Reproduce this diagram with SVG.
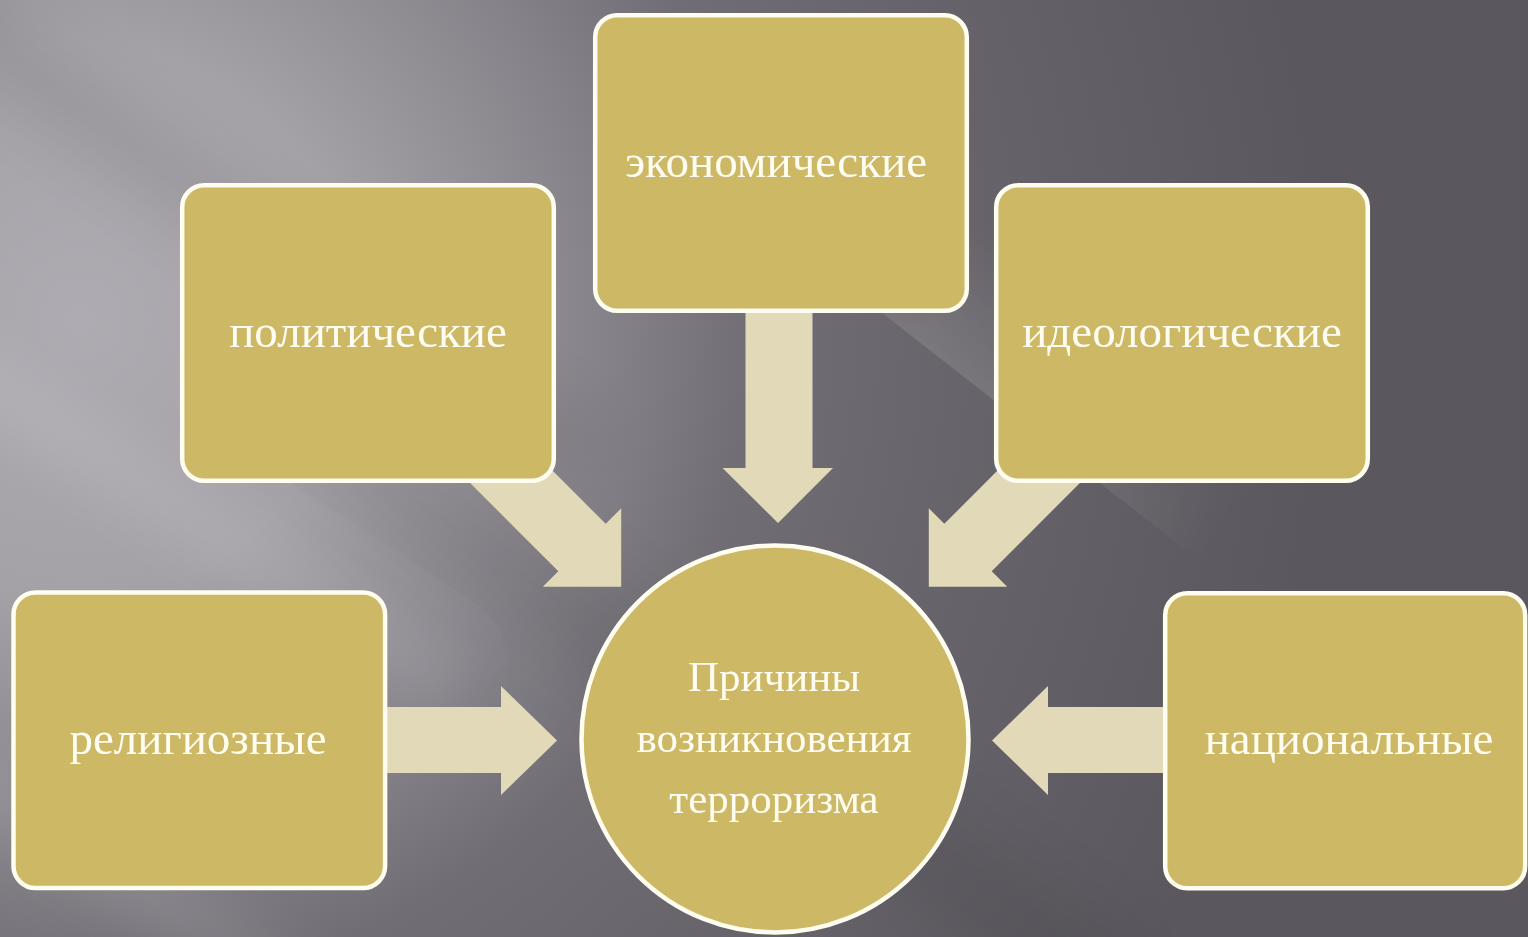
<svg xmlns="http://www.w3.org/2000/svg" width="1528" height="937" viewBox="0 0 1528 937">
  <defs>
    <radialGradient id="bg" gradientUnits="userSpaceOnUse" cx="80" cy="320" r="1250">
      <stop offset="0" stop-color="#aeabb2"/>
      <stop offset="0.22" stop-color="#a4a1a7"/>
      <stop offset="0.42" stop-color="#858289"/>
      <stop offset="0.54" stop-color="#706e74"/>
      <stop offset="0.72" stop-color="#66646a"/>
      <stop offset="1" stop-color="#5a585e"/>
    </radialGradient>
    <linearGradient id="glint" x1="0" y1="0" x2="0" y2="1">
      <stop offset="0" stop-color="#ffffff" stop-opacity="0"/>
      <stop offset="1" stop-color="#ffffff" stop-opacity="0.12"/>
    </linearGradient>
    <linearGradient id="fadeX" x1="0" y1="0" x2="1" y2="0">
      <stop offset="0" stop-color="#000"/>
      <stop offset="0.35" stop-color="#fff"/>
      <stop offset="0.65" stop-color="#fff"/>
      <stop offset="1" stop-color="#000"/>
    </linearGradient>
    <mask id="glintMask" maskUnits="userSpaceOnUse" x="-400" y="-200" width="800" height="400">
      <rect x="-300" y="-130" width="560" height="140" fill="url(#fadeX)"/>
    </mask>
    <linearGradient id="streak" x1="0" y1="0" x2="0" y2="1">
      <stop offset="0" stop-color="#ffffff" stop-opacity="0"/>
      <stop offset="0.5" stop-color="#ffffff" stop-opacity="0.12"/>
      <stop offset="1" stop-color="#ffffff" stop-opacity="0"/>
    </linearGradient>
    <linearGradient id="dstreak" x1="0" y1="0" x2="0" y2="1">
      <stop offset="0" stop-color="#000000" stop-opacity="0"/>
      <stop offset="0.5" stop-color="#000000" stop-opacity="0.08"/>
      <stop offset="1" stop-color="#000000" stop-opacity="0"/>
    </linearGradient>
    <filter id="soft" x="-20%" y="-20%" width="140%" height="140%">
      <feGaussianBlur stdDeviation="25"/>
    </filter>
    <style>
      .box { fill: #cdb865; stroke: #fffcf0; stroke-width: 4.5; }
      .arrow { fill: #e2d9b9; }
      .lbl { font-family: "Liberation Serif", "Times New Roman", serif; fill: #fffdf2; text-anchor: middle; }
      .big { font-size: 47px; }
      .mid { font-size: 43px; }
    </style>
  </defs>

  <!-- background -->
  <rect x="0" y="0" width="1528" height="937" fill="url(#bg)"/>
  <g filter="url(#soft)">
    <g transform="translate(120,470) rotate(33)"><rect x="-400" y="-50" width="800" height="100" fill="url(#streak)"/></g>
    <g transform="translate(80,850) rotate(33)"><rect x="-300" y="-45" width="600" height="90" fill="url(#streak)"/></g>
    <g transform="translate(250,230) rotate(35)"><rect x="-400" y="-60" width="800" height="120" fill="url(#dstreak)"/></g>
    <g transform="translate(700,700) rotate(35)"><rect x="-500" y="-80" width="1000" height="160" fill="url(#dstreak)"/></g>
  </g>
  <g transform="translate(1000,405) rotate(38)">
    <rect x="-300" y="-130" width="560" height="130" fill="url(#glint)" mask="url(#glintMask)"/>
  </g>

  <!-- connectors -->
  <g id="connectors">
    <polygon class="arrow" points="745.5,300 812.5,300 812.5,468 833,468 778,523 722.5,468 745.5,468"/>
    <polygon class="arrow" points="464.7,382.8 605.7,523.8 621.2,508.3 621.2,586.7 542.8,586.7 558.3,571.2 417.3,430.2"/>
    <polygon class="arrow" points="1085.3,382.8 944.3,523.8 928.8,508.3 928.8,586.7 1007.2,586.7 991.7,571.2 1132.7,430.2"/>
    <polygon class="arrow" points="370,707 501,707 501,686 557,740.5 501,795 501,773 370,773"/>
    <polygon class="arrow" points="1180,707 1048,707 1048,686 992,740.5 1048,795 1048,773 1180,773"/>
  </g>

  <!-- nodes -->
  <g id="node-economic">
    <rect class="box" x="595.2" y="15.2" width="371.6" height="295.6" rx="22"/>
    <text class="lbl big" x="776" y="177">экономические</text>
  </g>
  <g id="node-political">
    <rect class="box" x="182.2" y="185.2" width="371.6" height="295.6" rx="22"/>
    <text class="lbl big" x="368" y="347">политические</text>
  </g>
  <g id="node-ideological">
    <rect class="box" x="996.2" y="185.2" width="371.6" height="295.6" rx="22"/>
    <text class="lbl big" x="1182" y="347">идеологические</text>
  </g>
  <g id="node-religious">
    <rect class="box" x="13.5" y="592.5" width="371.6" height="295.6" rx="22"/>
    <text class="lbl big" x="198" y="754">религиозные</text>
  </g>
  <g id="node-national">
    <rect class="box" x="1165.2" y="593.2" width="360" height="295" rx="22"/>
    <text class="lbl big" x="1349" y="754">национальные</text>
  </g>
  <g id="node-center">
    <circle class="box" cx="775" cy="739" r="193.5"/>
    <text class="lbl mid" x="774" y="691">Причины</text>
    <text class="lbl mid" x="774" y="752">возникновения</text>
    <text class="lbl mid" x="774" y="813">терроризма</text>
  </g>
</svg>
